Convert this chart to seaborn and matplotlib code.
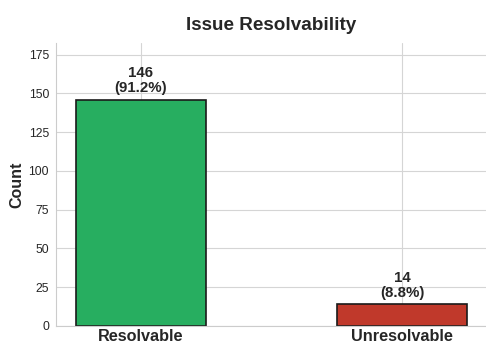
import matplotlib
matplotlib.use("Agg")
import matplotlib.pyplot as plt
import seaborn as sns
import pandas as pd

categories = ["Resolvable", "Unresolvable"]
counts = [146, 14]
percents = [91.2, 8.8]
colors = ["#27ae60", "#c0392b"]

sns.set_style("whitegrid")
plt.rcParams['font.family'] = ['Liberation Sans', 'DejaVu Sans']

df = pd.DataFrame({"cat": categories, "count": counts})

fig = plt.figure(figsize=(4.86, 3.43), dpi=100)
ax = fig.add_axes([56/486, 1 - 326/343, 431/486, (326 - 43)/343])
sns.barplot(data=df, x="cat", y="count", hue="cat", palette=colors, width=0.5,
            edgecolor="#1a1a1a", linewidth=1.2, legend=False, ax=ax, saturation=1)
ax.set_xlim(-0.325, 1.325)
ax.set_ylim(0, 146 * 1.25)
ax.set_yticks(range(0, 176, 25))
ax.grid(True, axis="both", color="#d5d5d5", linewidth=0.8)
ax.set_axisbelow(True)
for i, (c, p) in enumerate(zip(counts, percents)):
    ax.text(i, c + 3, f"{c}\n({p}%)", ha="center", va="bottom", fontsize=10.8,
            fontweight="bold", color="#262626", linespacing=1.05)
ax.set_title("Issue Resolvability", fontsize=13.6, fontweight="bold", pad=9.4, color="#262626")
ax.set_ylabel("Count", fontsize=11.5, fontweight="bold", labelpad=3)
ax.set_xlabel("")
ax.tick_params(axis="x", labelsize=11.7, pad=2.2, length=0)
ax.tick_params(axis="y", labelsize=8.8, pad=5, length=0)
for lbl in ax.get_xticklabels():
    lbl.set_fontweight("bold")
sns.despine(ax=ax, top=True, right=True)
for s in ["left", "bottom"]:
    ax.spines[s].set_color("#cccccc")
fig.savefig("out.png", dpi=100)
